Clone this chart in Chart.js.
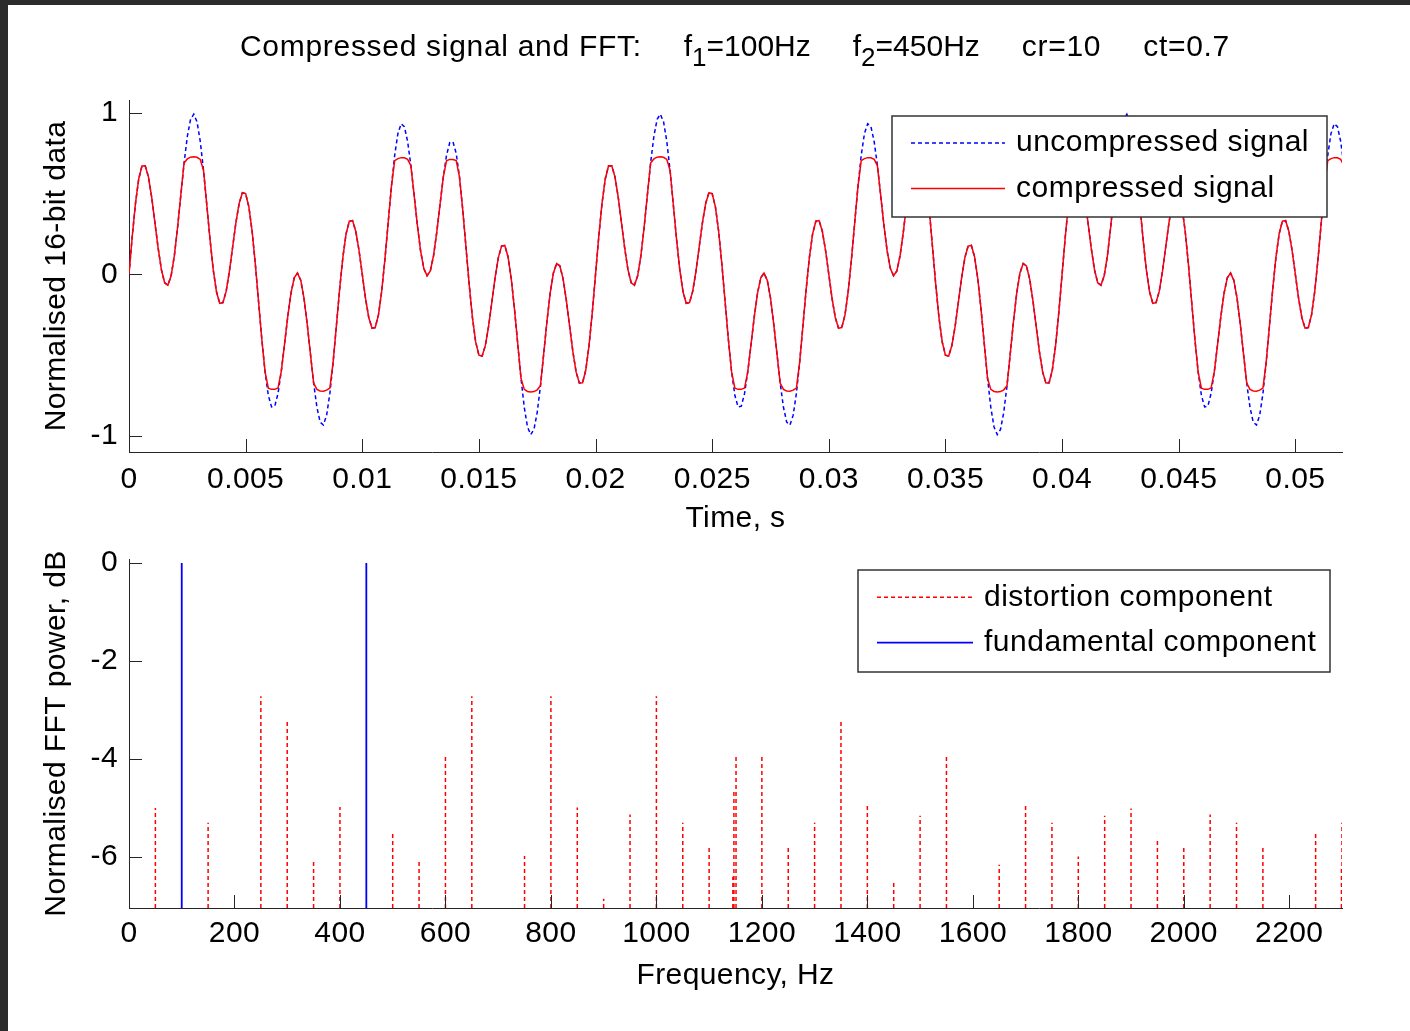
<!DOCTYPE html>
<html>
<head>
<meta charset="utf-8">
<title>Compressed signal and FFT</title>
<script src="https://cdn.jsdelivr.net/npm/chart.js@4.4.1/dist/chart.umd.min.js"></script>
<style>
  html, body { margin: 0; padding: 0; background: #fff; }
  body { width: 1410px; height: 1031px; position: relative; overflow: hidden; font-family: "Liberation Sans", Arial, sans-serif; }
  #frameLeft { position: absolute; left: 0; top: 0; width: 8px; height: 1031px; background: #2b2b2b; }
  #frameTop { position: absolute; left: 0; top: 0; width: 1410px; height: 5px; background: #2b2b2b; }
  #title { position: absolute; left: 240px; top: 31px; font-size: 30px; letter-spacing: 0.7px; line-height: 1; white-space: nowrap; color: #000; }
  #title .part { margin-left: 42px; }
  #title .fpart { letter-spacing: 0; }
  #title sub { font-size: 26px; vertical-align: baseline; position: relative; top: 10px; }
  canvas { position: absolute; left: 0; }
  #signalChart { top: 0; }
  #fftChart { top: 530px; }
</style>
</head>
<body>
<div id="frameLeft"></div>
<div id="frameTop"></div>
<canvas id="signalChart" width="1410" height="545"></canvas>
<canvas id="fftChart" width="1410" height="501"></canvas>
<div id="title">Compressed signal and FFT:<span class="part fpart">f<sub>1</sub>=100Hz</span><span class="part fpart">f<sub>2</sub>=450Hz</span><span class="part">cr=10</span><span class="part">ct=0.7</span></div>
<script>
// --- time signal (samples, one row = one 450 Hz cycle) ---
const SAMPLE_RATE = 7200; // Hz

const uncompressed = [
  0, 0.235, 0.44, 0.591, 0.671, 0.673, 0.604, 0.478, 0.321, 0.162, 0.029, -0.052, -0.067, -0.009, 0.116, 0.292,
  0.492, 0.69, 0.854, 0.96, 0.992, 0.945, 0.823, 0.645, 0.433, 0.218, 0.029, -0.108, -0.179, -0.175, -0.104, 0.02,
  0.171, 0.321, 0.44, 0.506, 0.5, 0.418, 0.267, 0.062, -0.171, -0.403, -0.604, -0.749, -0.821, -0.816, -0.737, -0.601,
  -0.433, -0.262, -0.116, -0.021, 0.008, -0.036, -0.146, -0.307, -0.492, -0.674, -0.823, -0.915, -0.933, -0.872, -0.737, -0.545,
  -0.321, -0.095, 0.104, 0.251, 0.329, 0.333, 0.267, 0.148, 0, -0.148, -0.267, -0.333, -0.329, -0.251, -0.104, 0.095,
  0.321, 0.545, 0.737, 0.872, 0.933, 0.915, 0.823, 0.674, 0.492, 0.307, 0.146, 0.036, -0.008, 0.021, 0.116, 0.262,
  0.433, 0.601, 0.737, 0.816, 0.821, 0.749, 0.604, 0.403, 0.171, -0.062, -0.267, -0.418, -0.5, -0.506, -0.44, -0.321,
  -0.171, -0.02, 0.104, 0.175, 0.179, 0.108, -0.029, -0.218, -0.433, -0.645, -0.823, -0.945, -0.992, -0.96, -0.854, -0.69,
  -0.492, -0.292, -0.116, 0.009, 0.067, 0.052, -0.029, -0.162, -0.321, -0.478, -0.604, -0.673, -0.671, -0.591, -0.44, -0.235,
  0, 0.235, 0.44, 0.591, 0.671, 0.673, 0.604, 0.478, 0.321, 0.162, 0.029, -0.052, -0.067, -0.009, 0.116, 0.292,
  0.492, 0.69, 0.854, 0.96, 0.992, 0.945, 0.823, 0.645, 0.433, 0.218, 0.029, -0.108, -0.179, -0.175, -0.104, 0.02,
  0.171, 0.321, 0.44, 0.506, 0.5, 0.418, 0.267, 0.062, -0.171, -0.403, -0.604, -0.749, -0.821, -0.816, -0.737, -0.601,
  -0.433, -0.262, -0.116, -0.021, 0.008, -0.036, -0.146, -0.307, -0.492, -0.674, -0.823, -0.915, -0.933, -0.872, -0.737, -0.545,
  -0.321, -0.095, 0.104, 0.251, 0.329, 0.333, 0.267, 0.148, 0, -0.148, -0.267, -0.333, -0.329, -0.251, -0.104, 0.095,
  0.321, 0.545, 0.737, 0.872, 0.933, 0.915, 0.823, 0.674, 0.492, 0.307, 0.146, 0.036, -0.008, 0.021, 0.116, 0.262,
  0.433, 0.601, 0.737, 0.816, 0.821, 0.749, 0.604, 0.403, 0.171, -0.062, -0.267, -0.418, -0.5, -0.506, -0.44, -0.321,
  -0.171, -0.02, 0.104, 0.175, 0.179, 0.108, -0.029, -0.218, -0.433, -0.645, -0.823, -0.945, -0.992, -0.96, -0.854, -0.69,
  -0.492, -0.292, -0.116, 0.009, 0.067, 0.052, -0.029, -0.162, -0.321, -0.478, -0.604, -0.673, -0.671, -0.591, -0.44, -0.235,
  0, 0.235, 0.44, 0.591, 0.671, 0.673, 0.604, 0.478, 0.321, 0.162, 0.029, -0.052, -0.067, -0.009, 0.116, 0.292,
  0.492, 0.69, 0.854, 0.96, 0.992, 0.945, 0.823, 0.645, 0.433, 0.218, 0.029, -0.108, -0.179, -0.175, -0.104, 0.02,
  0.171, 0.321, 0.44, 0.506, 0.5, 0.418, 0.267, 0.062, -0.171, -0.403, -0.604, -0.749, -0.821, -0.816, -0.737, -0.601,
  -0.433, -0.262, -0.116, -0.021, 0.008, -0.036, -0.146, -0.307, -0.492, -0.674, -0.823, -0.915, -0.933, -0.872, -0.737, -0.545,
  -0.321, -0.095, 0.104, 0.251, 0.329, 0.333, 0.267, 0.148, 0, -0.148, -0.267, -0.333, -0.329, -0.251, -0.104, 0.095,
  0.321, 0.545, 0.737, 0.872, 0.933, 0.915, 0.823, 0.674
];

const compressed = [
  0, 0.235, 0.44, 0.591, 0.671, 0.673, 0.604, 0.478, 0.321, 0.162, 0.029, -0.052, -0.067, -0.009, 0.116, 0.292,
  0.492, 0.69, 0.715, 0.726, 0.729, 0.725, 0.712, 0.645, 0.433, 0.218, 0.029, -0.108, -0.179, -0.175, -0.104, 0.02,
  0.171, 0.321, 0.44, 0.506, 0.5, 0.418, 0.267, 0.062, -0.171, -0.403, -0.604, -0.705, -0.712, -0.712, -0.704, -0.601,
  -0.433, -0.262, -0.116, -0.021, 0.008, -0.036, -0.146, -0.307, -0.492, -0.674, -0.712, -0.722, -0.723, -0.717, -0.704, -0.545,
  -0.321, -0.095, 0.104, 0.251, 0.329, 0.333, 0.267, 0.148, 0, -0.148, -0.267, -0.333, -0.329, -0.251, -0.104, 0.095,
  0.321, 0.545, 0.704, 0.717, 0.723, 0.722, 0.712, 0.674, 0.492, 0.307, 0.146, 0.036, -0.008, 0.021, 0.116, 0.262,
  0.433, 0.601, 0.704, 0.712, 0.712, 0.705, 0.604, 0.403, 0.171, -0.062, -0.267, -0.418, -0.5, -0.506, -0.44, -0.321,
  -0.171, -0.02, 0.104, 0.175, 0.179, 0.108, -0.029, -0.218, -0.433, -0.645, -0.712, -0.725, -0.729, -0.726, -0.715, -0.69,
  -0.492, -0.292, -0.116, 0.009, 0.067, 0.052, -0.029, -0.162, -0.321, -0.478, -0.604, -0.673, -0.671, -0.591, -0.44, -0.235,
  0, 0.235, 0.44, 0.591, 0.671, 0.673, 0.604, 0.478, 0.321, 0.162, 0.029, -0.052, -0.067, -0.009, 0.116, 0.292,
  0.492, 0.69, 0.715, 0.726, 0.729, 0.725, 0.712, 0.645, 0.433, 0.218, 0.029, -0.108, -0.179, -0.175, -0.104, 0.02,
  0.171, 0.321, 0.44, 0.506, 0.5, 0.418, 0.267, 0.062, -0.171, -0.403, -0.604, -0.705, -0.712, -0.712, -0.704, -0.601,
  -0.433, -0.262, -0.116, -0.021, 0.008, -0.036, -0.146, -0.307, -0.492, -0.674, -0.712, -0.722, -0.723, -0.717, -0.704, -0.545,
  -0.321, -0.095, 0.104, 0.251, 0.329, 0.333, 0.267, 0.148, 0, -0.148, -0.267, -0.333, -0.329, -0.251, -0.104, 0.095,
  0.321, 0.545, 0.704, 0.717, 0.723, 0.722, 0.712, 0.674, 0.492, 0.307, 0.146, 0.036, -0.008, 0.021, 0.116, 0.262,
  0.433, 0.601, 0.704, 0.712, 0.712, 0.705, 0.604, 0.403, 0.171, -0.062, -0.267, -0.418, -0.5, -0.506, -0.44, -0.321,
  -0.171, -0.02, 0.104, 0.175, 0.179, 0.108, -0.029, -0.218, -0.433, -0.645, -0.712, -0.725, -0.729, -0.726, -0.715, -0.69,
  -0.492, -0.292, -0.116, 0.009, 0.067, 0.052, -0.029, -0.162, -0.321, -0.478, -0.604, -0.673, -0.671, -0.591, -0.44, -0.235,
  0, 0.235, 0.44, 0.591, 0.671, 0.673, 0.604, 0.478, 0.321, 0.162, 0.029, -0.052, -0.067, -0.009, 0.116, 0.292,
  0.492, 0.69, 0.715, 0.726, 0.729, 0.725, 0.712, 0.645, 0.433, 0.218, 0.029, -0.108, -0.179, -0.175, -0.104, 0.02,
  0.171, 0.321, 0.44, 0.506, 0.5, 0.418, 0.267, 0.062, -0.171, -0.403, -0.604, -0.705, -0.712, -0.712, -0.704, -0.601,
  -0.433, -0.262, -0.116, -0.021, 0.008, -0.036, -0.146, -0.307, -0.492, -0.674, -0.712, -0.722, -0.723, -0.717, -0.704, -0.545,
  -0.321, -0.095, 0.104, 0.251, 0.329, 0.333, 0.267, 0.148, 0, -0.148, -0.267, -0.333, -0.329, -0.251, -0.104, 0.095,
  0.321, 0.545, 0.704, 0.717, 0.723, 0.722, 0.712, 0.674
];

const TIME_MAX = 0.052;
const TIME_TICKS = [0, 0.005, 0.01, 0.015, 0.02, 0.025, 0.03, 0.035, 0.04, 0.045, 0.05];
const TIME_TICK_LABELS = ["0", "0.005", "0.01", "0.015", "0.02", "0.025", "0.03", "0.035", "0.04", "0.045", "0.05"];
const SIGNAL_MIN = -1.1;
const SIGNAL_MAX = 1.08;
const SIGNAL_TICKS = [-1, 0, 1];

// --- FFT stems ---
const distFreqs = [50, 150, 250, 300, 350, 400, 500, 550, 600, 650, 750, 800, 850, 900, 950, 1000, 1050, 1100,
  1145, 1147, 1151, 1200, 1250, 1300, 1350, 1400, 1450, 1500, 1550, 1650, 1700, 1750, 1800, 1850, 1900, 1950,
  2000, 2050, 2100, 2150, 2250, 2299, 2300];
const distPower = [-5.0, -5.3, -2.72, -3.23, -6.05, -4.98, -5.47, -6.05, -3.95, -2.72, -5.98, -2.72, -4.99, -6.85, -5.13, -2.72, -5.3, -5.81,
  -6.4, -4.62, -3.92, -3.95, -5.81, -5.3, -3.23, -4.96, -6.5, -5.16, -3.95, -6.16, -4.96, -5.3, -5.99, -5.16, -5.01, -5.64,
  -5.81, -5.13, -5.3, -5.81, -5.47, -6.2, -5.3];
const fundFreqs = [100, 450];
const fundPower = [0, 0];

const FREQ_MAX = 2300;
const FREQ_TICKS = [0, 200, 400, 600, 800, 1000, 1200, 1400, 1600, 1800, 2000, 2200];
const POWER_MIN = -7.04;
const POWER_MAX = 0.08;
const POWER_TICKS = [-6, -4, -2, 0];

const FONT = '"Liberation Sans", Arial, sans-serif';
Chart.defaults.font.family = FONT;
Chart.defaults.font.size = 30;
Chart.defaults.color = "#000";

function signalPoints(values) {
  return values.map((v, i) => ({ x: i / SAMPLE_RATE, y: v }));
}

// each stem = baseline point, top point, then a gap
function stemPoints(freqs, power, base) {
  const pts = [];
  freqs.forEach((f, i) => {
    pts.push({ x: f, y: base }, { x: f, y: power[i] }, { x: f, y: null });
  });
  return pts;
}

// slightly wider text, like the MATLAB screen rendering
const wideText = {
  id: "wideText",
  beforeDraw(chart) { chart.ctx.letterSpacing = "0.4px"; },
};

// MATLAB-style tick marks pointing into the axes
const inwardTicks = {
  id: "inwardTicks",
  afterDatasetsDraw(chart, args, opts) {
    const { ctx, chartArea } = chart;
    const len = opts.length || 13;
    const xs = chart.scales.x, ys = chart.scales.y;
    ctx.save();
    ctx.strokeStyle = "#262626";
    ctx.lineWidth = 1;
    ctx.beginPath();
    xs.ticks.forEach((t) => {
      const px = Math.round(xs.getPixelForValue(t.value)) + 0.5;
      ctx.moveTo(px, chartArea.bottom);
      ctx.lineTo(px, chartArea.bottom - len);
    });
    ys.ticks.forEach((t) => {
      const py = Math.round(ys.getPixelForValue(t.value)) + 0.5;
      ctx.moveTo(chartArea.left, py);
      ctx.lineTo(chartArea.left + len, py);
    });
    ctx.stroke();
    ctx.restore();
  },
};

// boxed legend inside the axes
const boxLegend = {
  id: "boxLegend",
  afterDraw(chart, args, o) {
    if (!o || !o.rows) return;
    const { ctx } = chart;
    ctx.save();
    ctx.fillStyle = "#fff";
    ctx.fillRect(o.left, o.top, o.width, o.height);
    ctx.strokeStyle = "#333";
    ctx.lineWidth = 1.5;
    ctx.strokeRect(o.left, o.top, o.width, o.height);
    chart.data.datasets.forEach((ds, i) => {
      const y = o.rows[i];
      ctx.strokeStyle = ds.borderColor;
      ctx.lineWidth = ds.borderWidth;
      ctx.setLineDash(ds.borderDash || []);
      ctx.beginPath();
      ctx.moveTo(o.lineFrom, y);
      ctx.lineTo(o.lineTo, y);
      ctx.stroke();
      ctx.setLineDash([]);
      ctx.fillStyle = "#000";
      ctx.font = "30px " + FONT;
      ctx.letterSpacing = "0.5px";
      ctx.textAlign = "left";
      ctx.textBaseline = "middle";
      ctx.fillText(ds.label, o.textX, y);
    });
    ctx.restore();
  },
};

function axisStyle() {
  return {
    grid: { display: true, drawOnChartArea: false, drawTicks: false },
    border: { display: true, color: "#262626", width: 1 },
  };
}

new Chart(document.getElementById("signalChart"), {
  type: "line",
  data: {
    datasets: [
      {
        label: "uncompressed signal",
        data: signalPoints(uncompressed),
        borderColor: "rgb(0,0,255)",
        borderWidth: 1.5,
        borderDash: [4, 3],
        pointRadius: 0,
        order: 2,
      },
      {
        label: "compressed signal",
        data: signalPoints(compressed),
        borderColor: "rgb(255,0,0)",
        borderWidth: 1.5,
        pointRadius: 0,
        order: 1,
      },
    ],
  },
  options: {
    responsive: false,
    animation: false,
    layout: { padding: { left: 0, top: 100, right: 68, bottom: 0 } },
    scales: {
      x: {
        type: "linear",
        min: 0,
        max: TIME_MAX,
        ...axisStyle(),
        afterBuildTicks: (s) => { s.ticks = TIME_TICKS.map((v) => ({ value: v })); },
        afterFit: (s) => { s.height = 93; },
        ticks: { autoSkip: false, maxRotation: 0, padding: 10, callback: (v, i) => TIME_TICK_LABELS[i] },
        title: { display: true, text: "Time, s", padding: { top: 0, bottom: 8 } },
      },
      y: {
        min: SIGNAL_MIN,
        max: SIGNAL_MAX,
        ...axisStyle(),
        afterBuildTicks: (s) => { s.ticks = SIGNAL_TICKS.map((v) => ({ value: v })); },
        afterFit: (s) => { s.width = 129; },
        ticks: { padding: 11, callback: (v) => String(v) },
        title: { display: true, text: "Normalised 16-bit data", padding: { top: 39, bottom: 0 } },
      },
    },
    plugins: {
      legend: { display: false },
      tooltip: { enabled: false },
      inwardTicks: { length: 13 },
      boxLegend: { left: 892, top: 116, width: 435, height: 101, rows: [143, 188.5], lineFrom: 911, lineTo: 1005, textX: 1016 },
    },
  },
  plugins: [wideText, inwardTicks, boxLegend],
});

new Chart(document.getElementById("fftChart"), {
  type: "line",
  data: {
    datasets: [
      {
        label: "distortion component",
        data: stemPoints(distFreqs, distPower, POWER_MIN),
        borderColor: "rgb(255,0,0)",
        borderWidth: 1.5,
        borderDash: [4, 3],
        pointRadius: 0,
        spanGaps: false,
      },
      {
        label: "fundamental component",
        data: stemPoints(fundFreqs, fundPower, POWER_MIN),
        borderColor: "rgb(0,0,255)",
        borderWidth: 1.8,
        pointRadius: 0,
        spanGaps: false,
      },
    ],
  },
  options: {
    responsive: false,
    animation: false,
    layout: { padding: { left: 0, top: 25, right: 68, bottom: 0 } },
    scales: {
      x: {
        type: "linear",
        min: 0,
        max: FREQ_MAX,
        ...axisStyle(),
        afterBuildTicks: (s) => { s.ticks = FREQ_TICKS.map((v) => ({ value: v })); },
        afterFit: (s) => { s.height = 123; },
        ticks: { autoSkip: false, maxRotation: 0, padding: 8, callback: (v) => String(v) },
        title: { display: true, text: "Frequency, Hz", padding: { top: 0, bottom: 37 } },
      },
      y: {
        min: POWER_MIN,
        max: POWER_MAX,
        ...axisStyle(),
        afterBuildTicks: (s) => { s.ticks = POWER_TICKS.map((v) => ({ value: v })); },
        afterFit: (s) => { s.width = 129; },
        ticks: { padding: 11, callback: (v) => String(v) },
        title: { display: true, text: "Normalised FFT power, dB", padding: { top: 39, bottom: 0 } },
      },
    },
    plugins: {
      legend: { display: false },
      tooltip: { enabled: false },
      inwardTicks: { length: 13 },
      boxLegend: { left: 858, top: 40, width: 472, height: 102, rows: [67.3, 112.7], lineFrom: 877, lineTo: 973, textX: 984 },
    },
  },
  plugins: [wideText, inwardTicks, boxLegend],
});
</script>
</body>
</html>
